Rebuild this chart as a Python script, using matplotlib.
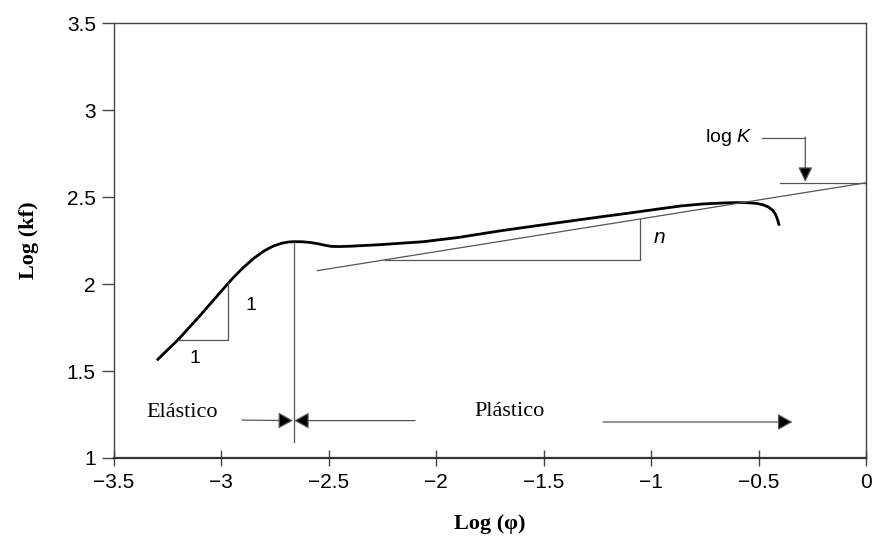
import numpy as np
import matplotlib.pyplot as plt

plt.rcParams['mathtext.fontset'] = 'custom'
plt.rcParams['mathtext.it'] = 'Liberation Sans:italic'
plt.rcParams['mathtext.rm'] = 'Liberation Sans'

# flow curve
curve_x = [-3.30, -3.20, -3.10, -3.00, -2.95, -2.90, -2.85, -2.80, -2.76, -2.72, -2.69, -2.666,
           -2.63, -2.59, -2.554, -2.52, -2.49, -2.45, -2.40, -2.26, -2.06, -1.90, -1.70,
           -1.47, -1.235, -1.095, -0.95, -0.86, -0.76, -0.66, -0.60, -0.55, -0.51, -0.48,
           -0.455, -0.435, -0.422, -0.413, -0.405]
curve_y = [1.562, 1.682, 1.818, 1.960, 2.030, 2.093, 2.148, 2.192, 2.218, 2.235, 2.242, 2.244,
           2.244, 2.240, 2.233, 2.224, 2.217, 2.216, 2.218, 2.227, 2.244, 2.268, 2.307,
           2.347, 2.387, 2.410, 2.435, 2.450, 2.461, 2.467, 2.469, 2.468, 2.464, 2.456,
           2.443, 2.424, 2.400, 2.370, 2.336]

log_K = 2.583
n_slope = 0.198
fit_x = [-2.554, 0.0]

xticks = [-3.5, -3, -2.5, -2, -1.5, -1, -0.5, 0]
xticklabels = ['\u22123.5', '\u22123', '\u22122.5', '\u22122', '\u22121.5', '\u22121', '\u22120.5', '0']
yticks = [1, 1.5, 2, 2.5, 3, 3.5]
yticklabels = ['1', '1.5', '2', '2.5', '3', '3.5']

x_peak = -2.664
y_arrow = 1.215

fig = plt.figure(figsize=(8.76, 5.42), dpi=100)
ax = fig.add_axes([0.130, 0.155, 0.859, 0.802])

ax.plot(curve_x, curve_y, color='black', lw=2.0, solid_capstyle='butt', solid_joinstyle='round')

thin = dict(color='#555555', lw=0.9)
fit_y = [log_K + n_slope * v for v in fit_x]
ax.plot(fit_x, fit_y, **thin)

# slope triangle n
y_h = 2.14
x_start = (y_h - log_K) / n_slope
x_v = -1.053
ax.plot([x_start, x_v, x_v], [y_h, y_h, log_K + n_slope * x_v], **thin)
ax.text(-0.96, 2.27, 'n', fontsize=15, style='italic', family='Liberation Sans', ha='center', va='center')

# slope triangle 1:1
ax.plot([-3.20, -2.967, -2.967], [1.68, 1.68, 2.011], **thin)
ax.text(-3.123, 1.573, '1', fontsize=14, family='Liberation Sans', ha='center', va='center')
ax.text(-2.862, 1.877, '1', fontsize=14, family='Liberation Sans', ha='center', va='center')

# vertical at peak
ax.plot([x_peak, x_peak], [2.244, 1.093], **thin)

# log K callout
ax.plot([-0.40, 0.0], [log_K, log_K], **thin)
ax.plot([-0.484, -0.284], [2.841, 2.841], **thin)
ax.annotate('', xy=(-0.284, log_K + 0.005), xytext=(-0.284, 2.846),
            arrowprops=dict(arrowstyle='-|>,head_length=0.45,head_width=0.22', color='#555555',
                            lw=0.9, mutation_scale=20, fc='black', ec='#555555',
                            shrinkA=0, shrinkB=0))
ax.text(-0.53, 2.841, 'log $K$', fontsize=14, family='Liberation Sans', ha='right', va='center')

# elastic / plastic arrows
arr = dict(arrowstyle='-|>,head_length=0.45,head_width=0.25', color='#555555', lw=0.9,
           mutation_scale=20, fc='black', shrinkA=0, shrinkB=0)
ax.annotate('', xy=(x_peak - 0.003, y_arrow), xytext=(-2.904, y_arrow + 0.003), arrowprops=arr)
ax.annotate('', xy=(x_peak + 0.003, y_arrow), xytext=(-2.099, y_arrow), arrowprops=arr)
ax.annotate('', xy=(-0.344, y_arrow - 0.008), xytext=(-1.224, y_arrow - 0.008), arrowprops=arr)
ax.text(-3.183, 1.26, 'Elástico', fontsize=16, family='Liberation Serif', ha='center', va='center')
ax.text(-1.66, 1.27, 'Plástico', fontsize=16, family='Liberation Serif', ha='center', va='center')

ax.set_xlim(-3.5, 0)
ax.set_ylim(1, 3.5)
ax.set_xticks(xticks)
ax.set_xticklabels(xticklabels, family='Liberation Sans', fontsize=15)
ax.set_yticks(yticks)
ax.set_yticklabels(yticklabels, family='Liberation Sans', fontsize=15)
ax.tick_params(axis='x', direction='inout', length=11, width=1.0, color='#444444', pad=5)
ax.tick_params(axis='y', direction='out', length=9, width=1.0, color='#444444', pad=4)
for side in ['left', 'right', 'top']:
    ax.spines[side].set_color('#444444')
    ax.spines[side].set_linewidth(1.0)
ax.spines['bottom'].set_color('#333333')
ax.spines['bottom'].set_linewidth(1.6)

ax.set_xlabel('Log (\u03c6)', family='Liberation Serif', fontsize=16, fontweight='bold', labelpad=16)
ax.set_ylabel('Log (kf)', family='Liberation Serif', fontsize=16, fontweight='bold', labelpad=20)

fig.savefig('out.png', dpi=100)
